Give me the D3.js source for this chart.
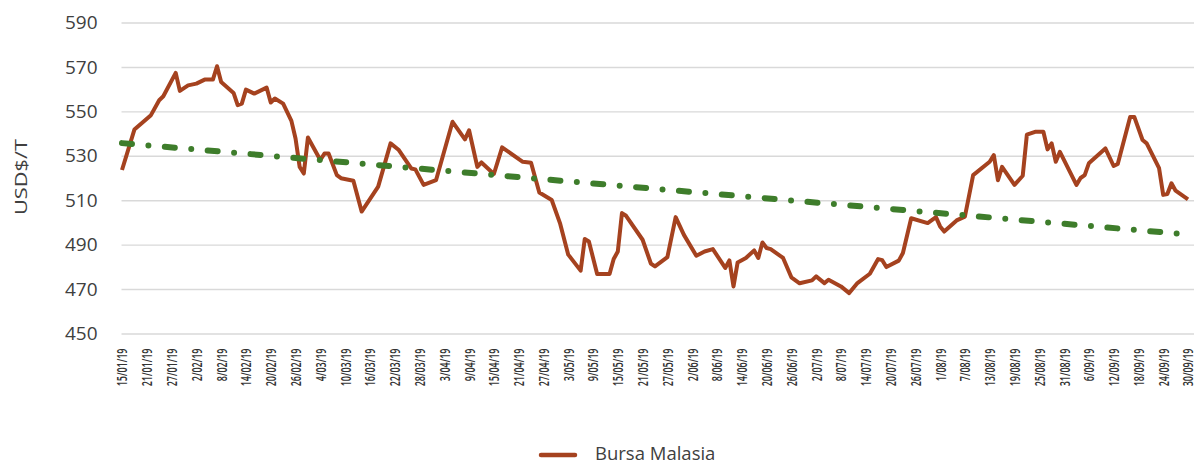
<!DOCTYPE html>
<html>
<head>
<meta charset="utf-8">
<script src="https://cdn.jsdelivr.net/npm/d3@7"></script>
<style>
  body { margin: 0; background: #fff; }
  svg text { font-family: "Open Sans", sans-serif; fill: #404040; }
</style>
</head>
<body>
<div id="chart"></div>
<script>
// chart data
var dates = ["15/01/19","18/01/19","22/01/19","24/01/19","25/01/19","28/01/19","29/01/19","31/01/19",
  "2/02/19","4/02/19","6/02/19","7/02/19","8/02/19","11/02/19","12/02/19","13/02/19","14/02/19","16/02/19",
  "19/02/19","20/02/19","21/02/19","23/02/19","25/02/19","26/02/19","27/02/19","28/02/19",
  "1/03/19","4/03/19","5/03/19","6/03/19","8/03/19","9/03/19","12/03/19","14/03/19","18/03/19","21/03/19",
  "23/03/19","26/03/19","27/03/19","29/03/19",
  "1/04/19","5/04/19","8/04/19","9/04/19","11/04/19","12/04/19","15/04/19","17/04/19","22/04/19","24/04/19",
  "26/04/19","29/04/19",
  "1/05/19","3/05/19","6/05/19","7/05/19","8/05/19","10/05/19","13/05/19","14/05/19","15/05/19","16/05/19",
  "17/05/19","21/05/19","23/05/19","24/05/19","27/05/19","29/05/19","31/05/19",
  "3/06/19","5/06/19","7/06/19","10/06/19","11/06/19","12/06/19","13/06/19","15/06/19","17/06/19","18/06/19",
  "19/06/19","20/06/19","21/06/19","24/06/19","26/06/19","28/06/19",
  "1/07/19","2/07/19","4/07/19","5/07/19","8/07/19","10/07/19","12/07/19","15/07/19","17/07/19","18/07/19",
  "19/07/19","22/07/19","23/07/19","25/07/19","29/07/19","31/07/19",
  "1/08/19","2/08/19","5/08/19","7/08/19","9/08/19","13/08/19","14/08/19","15/08/19","16/08/19","19/08/19",
  "21/08/19","22/08/19","24/08/19","26/08/19","27/08/19","28/08/19","29/08/19","30/08/19",
  "3/09/19","4/09/19","5/09/19","6/09/19","10/09/19","12/09/19","13/09/19","16/09/19","17/09/19","19/09/19",
  "20/09/19","23/09/19","24/09/19","25/09/19","26/09/19","27/09/19","30/09/19"];

var bursa = [523.6,541.8,548.3,555,556.8,567.3,559.2,561.7,
  562.5,564.3,564.3,570.3,563.2,558.3,552.8,553.5,559.8,558,
  560.7,554,555.8,553.5,545.7,537.8,525,522,
  538.2,528.1,531,531,521.3,519.9,518.8,504.9,516.1,535.6,
  532.6,524.3,523.9,516.9,
  519,545.3,537.4,541.5,525,527,521.8,533.8,527.3,526.9,
  513.5,510.1,
  499.7,485.5,478.3,492.5,491.4,476.8,476.8,483.5,486.9,504.2,
  503,492.2,481.5,480.2,484.4,502.4,494.4,
  485,486.9,488,479.5,482.9,471.2,482,484,487.4,484,
  491,488.5,488,484,475.3,472.6,
  473.9,475.7,472.7,474.2,471.2,468.2,472.7,476.9,483.5,483,
  479.9,482.8,486.2,501.9,499.7,502.4,
  498.2,495.9,500.9,502.6,521.3,527.3,530.3,519,525,516.9,
  521,539.5,540.8,540.8,532.9,535.6,527.3,531.8,
  516.9,520,521.3,526.6,533.3,525.4,526.3,547.5,547.5,537.1,
  535.6,524.4,512.4,512.8,517.6,514.3,510.4];

// linear trend, start and end values
var trendDates = ["15/01/19", "30/09/19"];
var trendValues = [535.7, 494.6];

var yTicks = [450, 470, 490, 510, 530, 550, 570, 590];
var xTickLabels = ["15/01/19","21/01/19","27/01/19","2/02/19","8/02/19","14/02/19","20/02/19","26/02/19",
  "4/03/19","10/03/19","16/03/19","22/03/19","28/03/19","3/04/19","9/04/19","15/04/19","21/04/19","27/04/19",
  "3/05/19","9/05/19","15/05/19","21/05/19","27/05/19","2/06/19","8/06/19","14/06/19","20/06/19","26/06/19",
  "2/07/19","8/07/19","14/07/19","20/07/19","26/07/19","1/08/19","7/08/19","13/08/19","19/08/19","25/08/19",
  "31/08/19","6/09/19","12/09/19","18/09/19","24/09/19","30/09/19"];

var width = 1194, height = 462;
var red = "#A5421F", green = "#3E7D2B";

var parseDate = d3.timeParse("%d/%m/%y");

var series = dates.map(function(d, i) { return { date: parseDate(d), value: bursa[i] }; });
var trend = trendDates.map(function(d, i) { return { date: parseDate(d), value: trendValues[i] }; });

var x = d3.scaleTime()
  .domain([parseDate(xTickLabels[0]), parseDate(xTickLabels[xTickLabels.length - 1])])
  .range([122, 1188]);

var y = d3.scaleLinear()
  .domain([450, 590])
  .range([333.5, 22.5]);

var svg = d3.select("#chart")
  .append("svg")
  .attr("width", width)
  .attr("height", height);

// y axis + gridlines
var gridLeft = 121.5;
var yAxis = svg.append("g")
  .attr("transform", "translate(" + gridLeft + ",0)")
  .call(d3.axisLeft(y).tickValues(yTicks).tickSize(-(width - gridLeft)).tickPadding(24));
yAxis.select(".domain").remove();
yAxis.selectAll(".tick line").attr("stroke", "#D9D9D9").attr("stroke-width", 1.4);
yAxis.selectAll(".tick text").style("font-size", "19px").attr("fill", "#404040");

// x axis labels, rotated
var xAxis = svg.append("g")
  .attr("transform", "translate(0,333.5)")
  .call(d3.axisBottom(x)
    .tickValues(xTickLabels.map(parseDate))
    .tickFormat(function(d, i) { return xTickLabels[i]; })
    .tickSize(0));
xAxis.select(".domain").remove();
xAxis.selectAll(".tick text")
  .style("font-size", "12.5px")
  .style("font-weight", 600)
  .style("fill", "#333")
  .attr("text-anchor", "end")
  .attr("x", 0)
  .attr("y", 0)
  .attr("dy", "0.36em")
  .attr("transform", "translate(0,15) rotate(-90) scale(0.72,1.1)");

// y title
svg.append("text")
  .attr("transform", "translate(27,177) rotate(-90)")
  .attr("text-anchor", "middle")
  .attr("textLength", 76)
  .attr("lengthAdjust", "spacingAndGlyphs")
  .style("font-size", "17px")
  .text("USD$/T");

var line = d3.line()
  .x(function(d) { return x(d.date); })
  .y(function(d) { return y(d.value); });

// price line
svg.append("path")
  .datum(series)
  .attr("fill", "none")
  .attr("stroke", red)
  .attr("stroke-width", 4)
  .attr("stroke-linejoin", "round")
  .attr("d", line);

// trend line, dash-dot
svg.append("path")
  .datum(trend)
  .attr("fill", "none")
  .attr("stroke", green)
  .attr("stroke-width", 6)
  .attr("stroke-linecap", "round")
  .attr("stroke-dasharray", "10,16.5,0,16.5")
  .attr("d", line);

// legend
svg.append("line")
  .attr("x1", 541).attr("x2", 575)
  .attr("y1", 455).attr("y2", 455)
  .attr("stroke", red)
  .attr("stroke-width", 4.5)
  .attr("stroke-linecap", "round");
svg.append("text")
  .attr("x", 595)
  .attr("y", 459.5)
  .style("font-size", "18.5px")
  .text("Bursa Malasia");
</script>
</body>
</html>
